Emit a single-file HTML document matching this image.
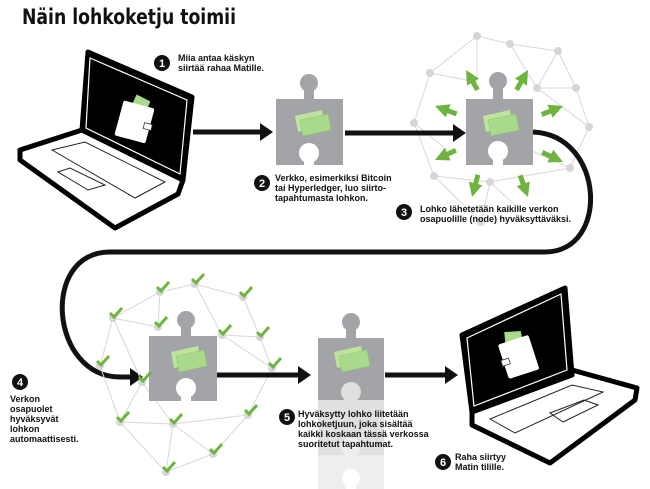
<!DOCTYPE html>
<html><head><meta charset="utf-8"><style>
html,body{margin:0;padding:0;background:#fff;}
svg{display:block;}
text{font-family:"Liberation Sans",sans-serif;font-weight:bold;fill:#111;}
.t{font-size:9px;}
.n{font-size:11px;fill:#fff;text-anchor:middle;font-weight:bold;}
.net line{stroke:#d8d8d8;stroke-width:1;}
.net circle{fill:#d6d6d6;}
</style></head><body>
<svg width="650" height="489" viewBox="0 0 650 489" xmlns="http://www.w3.org/2000/svg">
<defs>
<g id="ga"><path d="M0,0 L-14,-7 L-14,-2.5 L-23,-2.5 L-23,2.5 L-14,2.5 L-14,7 Z" fill="#6fb43f"/></g>
<g id="ck"><path d="M-5,0 L-1,4 L7,-5" stroke="#6fb43f" stroke-width="3" fill="none"/></g>
<g id="bills"><polygon points="-17,-8 10,-14 13,2 -14,8" fill="#bde39e"/><polygon points="-12,-4 16,-10 19,6 -9,12" fill="#a9d98a" stroke="#8fc66f" stroke-width="0.5"/></g>
</defs>

<text x="22" y="24" textLength="214" lengthAdjust="spacingAndGlyphs" style="font-size:21px;font-family:'DejaVu Sans','Liberation Sans',sans-serif;font-weight:bold">Näin lohkoketju toimii</text>

<!-- Laptop 1 -->
<polygon points="20,150 82,130 183,180 178,194 115,228 20,160" fill="#fff" stroke="#000" stroke-width="5" stroke-linejoin="round"/>
<polygon points="52,150 85,142 165,182 135,198" fill="none" stroke="#222" stroke-width="1"/>
<polygon points="58,172 70,168 105,185 88,190" fill="none" stroke="#222" stroke-width="1"/>
<polygon points="88,52 192,97 183,180 82,130" fill="#000" stroke="#000" stroke-width="5" stroke-linejoin="round"/>
<polygon points="90,58 187,100 180,174 86,128" fill="none" stroke="#fff" stroke-width="1.2"/>
<polygon points="93,65 183,104 177,168 90,126" fill="#000"/>
<g transform="translate(135,120) rotate(15)"><polygon points="-5,-25 10,-22 8,-5 -8,-8" fill="#a9d98a"/><rect x="-16" y="-16" width="32" height="36" rx="2" fill="#fff"/><rect x="10" y="0" width="8" height="6" fill="#fff" stroke="#333" stroke-width="0.8"/></g>

<!-- Step 1 -->
<circle cx="162" cy="63" r="8" fill="#111"/><text class="n" x="162" y="67">1</text>
<text class="t" x="178" y="61">Miia antaa käskyn</text>
<text class="t" x="178" y="71">siirtää rahaa Matille.</text>

<!-- arrow 1 -->
<line x1="193" y1="132" x2="262" y2="132" stroke="#111" stroke-width="5"/>
<polygon points="260,123 273,132 260,141" fill="#111"/>

<!-- Puzzle 2 -->
<g fill="#a3a4a8"><rect x="276" y="99" width="67" height="66"/><circle cx="309" cy="83" r="9"/><rect x="304" y="86" width="10" height="14"/></g>
<circle cx="309" cy="153" r="10" fill="#fff"/><rect x="304" y="155" width="10" height="11" fill="#fff"/>
<use href="#bills" transform="translate(312,124)"/>

<!-- Step 2 -->
<circle cx="262" cy="183" r="8" fill="#111"/><text class="n" x="262" y="187">2</text>
<text class="t" x="275" y="181">Verkko, esimerkiksi Bitcoin</text>
<text class="t" x="275" y="191">tai Hyperledger, luo siirto-</text>
<text class="t" x="275" y="201">tapahtumasta lohkon.</text>

<!-- Network 3 -->
<g class="net">
<line x1="477" y1="36" x2="510" y2="44"/><line x1="510" y1="44" x2="558" y2="51"/><line x1="477" y1="36" x2="430" y2="73"/><line x1="558" y1="51" x2="576" y2="88"/><line x1="558" y1="51" x2="537" y2="88"/><line x1="510" y1="44" x2="537" y2="88"/><line x1="430" y1="73" x2="414" y2="123"/><line x1="576" y1="88" x2="589" y2="127"/><line x1="537" y1="88" x2="576" y2="88"/><line x1="589" y1="127" x2="570" y2="168"/><line x1="414" y1="123" x2="434" y2="176"/><line x1="434" y1="176" x2="490" y2="182"/><line x1="490" y1="182" x2="570" y2="168"/><line x1="434" y1="176" x2="481" y2="222"/><line x1="490" y1="182" x2="481" y2="222"/><line x1="430" y1="73" x2="477" y2="82"/><line x1="477" y1="36" x2="477" y2="82"/><line x1="537" y1="88" x2="589" y2="127"/><line x1="414" y1="123" x2="447" y2="150"/><line x1="570" y1="168" x2="530" y2="150"/><line x1="490" y1="182" x2="520" y2="210"/>
<circle cx="477" cy="36" r="4"/><circle cx="510" cy="44" r="4"/><circle cx="558" cy="51" r="4"/><circle cx="430" cy="73" r="4"/><circle cx="537" cy="88" r="4"/><circle cx="576" cy="88" r="4"/><circle cx="414" cy="123" r="4"/><circle cx="589" cy="127" r="4"/><circle cx="570" cy="168" r="4"/><circle cx="434" cy="176" r="4"/><circle cx="490" cy="182" r="4"/><circle cx="481" cy="222" r="4"/>
</g>
<g fill="#a3a4a8"><rect x="466" y="99" width="67" height="66"/><circle cx="498" cy="81" r="9"/><rect x="493" y="84" width="10" height="16"/></g>
<circle cx="498" cy="151" r="10" fill="#fff"/><rect x="493" y="154" width="10" height="12" fill="#fff"/>
<use href="#bills" transform="translate(500,124)"/>
<use href="#ga" transform="translate(466,70) rotate(-120)"/>
<use href="#ga" transform="translate(528,70) rotate(-60)"/>
<use href="#ga" transform="translate(435,106) rotate(200)"/>
<use href="#ga" transform="translate(563,106) rotate(-22)"/>
<use href="#ga" transform="translate(435,160) rotate(155)"/>
<use href="#ga" transform="translate(563,162) rotate(25)"/>
<use href="#ga" transform="translate(472,197) rotate(105)"/>
<use href="#ga" transform="translate(528,197) rotate(70)"/>

<!-- arrow 2 -->
<line x1="345" y1="133" x2="455" y2="133" stroke="#111" stroke-width="5"/>
<polygon points="453,124 466,133 453,142" fill="#111"/>

<!-- Step 3 -->
<circle cx="404" cy="212" r="8" fill="#111"/><text class="n" x="404" y="216">3</text>
<text class="t" x="420" y="212">Lohko lähetetään kaikille verkon</text>
<text class="t" x="420" y="222">osapuolille (node) hyväksyttäväksi.</text>

<!-- big curve -->
<path d="M533,132 C605,135 610,252 545,252 L110,252 C40,252 50,377 120,377 L132,377" fill="none" stroke="#111" stroke-width="5"/>
<polygon points="130,368 143,377 130,386" fill="#111"/>

<!-- Network 4 -->
<g class="net">
<line x1="160" y1="292" x2="195" y2="284"/><line x1="195" y1="284" x2="243" y2="297"/><line x1="160" y1="292" x2="113" y2="318"/><line x1="113" y1="318" x2="158" y2="327"/><line x1="158" y1="327" x2="160" y2="292"/><line x1="195" y1="284" x2="222" y2="335"/><line x1="243" y1="297" x2="260" y2="337"/><line x1="222" y1="335" x2="260" y2="337"/><line x1="113" y1="318" x2="100" y2="366"/><line x1="113" y1="318" x2="142" y2="382"/><line x1="260" y1="337" x2="272" y2="368"/><line x1="222" y1="335" x2="272" y2="368"/><line x1="100" y1="366" x2="120" y2="422"/><line x1="142" y1="382" x2="120" y2="422"/><line x1="142" y1="382" x2="173" y2="424"/><line x1="120" y1="422" x2="173" y2="424"/><line x1="173" y1="424" x2="248" y2="415"/><line x1="272" y1="368" x2="248" y2="415"/><line x1="173" y1="424" x2="213" y2="454"/><line x1="248" y1="415" x2="213" y2="454"/><line x1="120" y1="422" x2="166" y2="472"/><line x1="173" y1="424" x2="166" y2="472"/><line x1="213" y1="454" x2="166" y2="472"/>
<circle cx="160" cy="292" r="4"/><circle cx="195" cy="284" r="4"/><circle cx="243" cy="297" r="4"/><circle cx="113" cy="318" r="4"/><circle cx="158" cy="327" r="4"/><circle cx="222" cy="335" r="4"/><circle cx="260" cy="337" r="4"/><circle cx="100" cy="366" r="4"/><circle cx="142" cy="382" r="4"/><circle cx="272" cy="368" r="4"/><circle cx="120" cy="422" r="4"/><circle cx="173" cy="424" r="4"/><circle cx="248" cy="415" r="4"/><circle cx="213" cy="454" r="4"/><circle cx="166" cy="472" r="4"/>
</g>
<g fill="#a3a4a8"><rect x="149" y="336" width="68" height="65"/><circle cx="186" cy="320" r="9"/><rect x="181" y="323" width="10" height="14"/></g>
<circle cx="186" cy="388" r="10" fill="#fff"/><rect x="181" y="391" width="10" height="11" fill="#fff"/>
<use href="#bills" transform="translate(188,360)"/>
<g>
<use href="#ck" transform="translate(162,287)"/><use href="#ck" transform="translate(197,279)"/><use href="#ck" transform="translate(245,292)"/><use href="#ck" transform="translate(115,313)"/><use href="#ck" transform="translate(160,322)"/><use href="#ck" transform="translate(224,330)"/><use href="#ck" transform="translate(262,332)"/><use href="#ck" transform="translate(102,361)"/><use href="#ck" transform="translate(144,377)"/><use href="#ck" transform="translate(274,363)"/><use href="#ck" transform="translate(122,417)"/><use href="#ck" transform="translate(175,419)"/><use href="#ck" transform="translate(250,410)"/><use href="#ck" transform="translate(215,449)"/><use href="#ck" transform="translate(168,467)"/>
</g>

<!-- Step 4 -->
<circle cx="20" cy="382" r="8" fill="#111"/><text class="n" x="20" y="386">4</text>
<text class="t" x="10" y="402">Verkon</text>
<text class="t" x="10" y="412">osapuolet</text>
<text class="t" x="10" y="422">hyväksyvät</text>
<text class="t" x="10" y="432">lohkon</text>
<text class="t" x="10" y="442">automaattisesti.</text>

<!-- arrow 4 -->
<line x1="217" y1="375" x2="300" y2="375" stroke="#111" stroke-width="5"/>
<polygon points="298,366 311,375 298,384" fill="#111"/>

<!-- Puzzle 5 chain -->
<g fill="#eeeeee"><rect x="318" y="455" width="66" height="34"/></g>
<g fill="#e0e0e0"><rect x="318" y="400" width="66" height="55"/><circle cx="351" cy="392" r="10"/></g>
<circle cx="351" cy="447" r="10" fill="#eeeeee"/><rect x="346" y="448" width="10" height="8" fill="#eeeeee"/>
<g fill="#a3a4a8"><rect x="318" y="338" width="66" height="62"/><circle cx="351" cy="322" r="9"/><rect x="346" y="325" width="10" height="14"/></g>
<circle cx="351" cy="392" r="10" fill="#e0e0e0"/><rect x="346" y="393" width="10" height="8" fill="#e0e0e0"/>
<use href="#bills" transform="translate(351,360)"/>
<circle cx="351" cy="478" r="9" fill="#fff"/><rect x="346" y="480" width="10" height="9" fill="#fff"/>

<!-- Step 5 -->
<circle cx="287" cy="417" r="8" fill="#111"/><text class="n" x="287" y="421">5</text>
<text class="t" x="298" y="417">Hyväksytty lohko liitetään</text>
<text class="t" x="298" y="427">lohkoketjuun, joka sisältää</text>
<text class="t" x="298" y="437">kaikki koskaan tässä verkossa</text>
<text class="t" x="298" y="447">suoritetut tapahtumat.</text>

<!-- arrow 5 -->
<line x1="385" y1="375" x2="447" y2="375" stroke="#111" stroke-width="5"/>
<polygon points="445,366 458,375 445,384" fill="#111"/>

<!-- Laptop 2 -->
<polygon points="472,410 572,370 637,388 635,400 550,463 472,425" fill="#fff" stroke="#000" stroke-width="5" stroke-linejoin="round"/>
<polygon points="490,419 572,385 603,392 515,433" fill="none" stroke="#222" stroke-width="1"/>
<polygon points="550,413 584,400 598,405 563,422" fill="none" stroke="#222" stroke-width="1"/>
<polygon points="462,335 565,288 572,375 472,412" fill="#000" stroke="#000" stroke-width="5" stroke-linejoin="round"/>
<polygon points="467,338 561,294 567,370 474,406" fill="none" stroke="#fff" stroke-width="1.2"/>
<polygon points="471,342 557,300 563,366 477,401" fill="#000"/>
<g transform="translate(518,355) rotate(-18)"><polygon points="-6,-26 10,-22 8,-6 -10,-8" fill="#a9d98a"/><rect x="-16" y="-16" width="32" height="36" rx="2" fill="#fff"/><rect x="-18" y="0" width="8" height="6" fill="#fff" stroke="#333" stroke-width="0.8"/></g>

<!-- Step 6 -->
<circle cx="443" cy="462" r="8" fill="#111"/><text class="n" x="443" y="466">6</text>
<text class="t" x="455" y="460">Raha siirtyy</text>
<text class="t" x="455" y="470">Matin tilille.</text>
</svg>
</body></html>
